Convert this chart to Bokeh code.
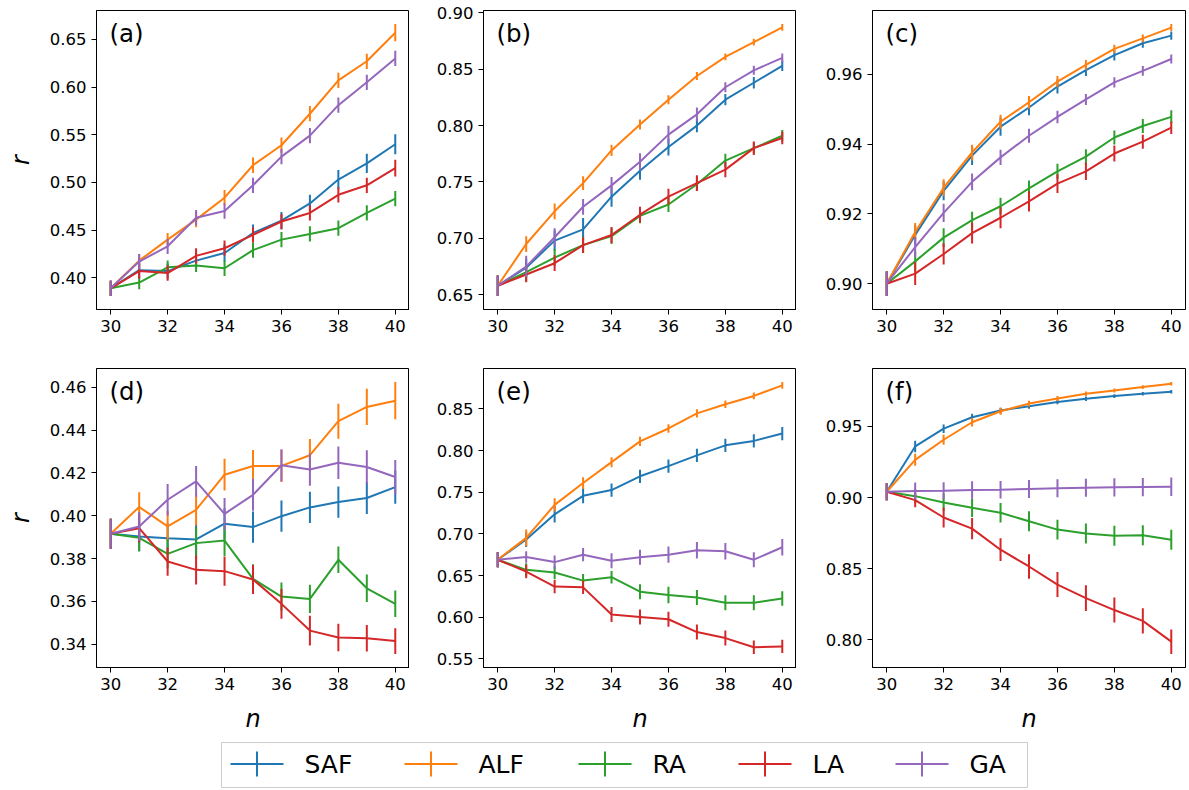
from bokeh.plotting import figure
from bokeh.models import Range1d, FixedTicker, Label, PrintfTickFormatter
from bokeh.layouts import column, row
from bokeh.embed import file_html
from bokeh.resources import INLINE
from bokeh.core.properties import value

# ---------------- data ----------------
N = [30, 31, 32, 33, 34, 35, 36, 37, 38, 39, 40]
METHODS = ["SAF", "ALF", "RA", "LA", "GA"]
COLORS = ["#1f77b4", "#ff7f0e", "#2ca02c", "#d62728", "#9467bd"]
X_TICKS = [30, 32, 34, 36, 38, 40]

# panel (a)
A_SAF = [0.389, 0.408, 0.407, 0.418, 0.426, 0.447, 0.460, 0.478, 0.503, 0.520, 0.540]
A_ALF = [0.389, 0.418, 0.440, 0.461, 0.484, 0.518, 0.539, 0.572, 0.607, 0.627, 0.657]
A_RA = [0.389, 0.395, 0.411, 0.413, 0.410, 0.429, 0.440, 0.446, 0.452, 0.468, 0.483]
A_LA = [0.389, 0.407, 0.405, 0.423, 0.431, 0.445, 0.459, 0.468, 0.487, 0.497, 0.515]
A_GA = [0.389, 0.417, 0.433, 0.463, 0.470, 0.497, 0.527, 0.549, 0.581, 0.605, 0.630]
A_SAF_ERR = [0.008, 0.008, 0.008, 0.008, 0.009, 0.009, 0.009, 0.009, 0.010, 0.010, 0.0105]
A_ALF_ERR = [0.008, 0.007, 0.007, 0.008, 0.008, 0.008, 0.008, 0.008, 0.008, 0.008, 0.009]
A_RA_ERR = [0.008, 0.007, 0.007, 0.007, 0.008, 0.008, 0.008, 0.008, 0.008, 0.008, 0.008]
A_LA_ERR = [0.008, 0.008, 0.008, 0.008, 0.008, 0.008, 0.008, 0.008, 0.008, 0.008, 0.0087]
A_GA_ERR = [0.008, 0.008, 0.008, 0.008, 0.008, 0.008, 0.008, 0.008, 0.008, 0.008, 0.008]
A_TICKS = [0.40, 0.45, 0.50, 0.55, 0.60, 0.65]

# panel (b)
B_SAF = [0.658, 0.674, 0.698, 0.708, 0.737, 0.760, 0.781, 0.800, 0.823, 0.838, 0.853]
B_ALF = [0.658, 0.695, 0.724, 0.749, 0.778, 0.801, 0.823, 0.844, 0.861, 0.874, 0.887]
B_RA = [0.658, 0.670, 0.683, 0.694, 0.702, 0.720, 0.730, 0.748, 0.769, 0.780, 0.791]
B_LA = [0.658, 0.668, 0.678, 0.694, 0.703, 0.721, 0.737, 0.749, 0.761, 0.780, 0.789]
B_GA = [0.658, 0.675, 0.701, 0.728, 0.747, 0.768, 0.792, 0.810, 0.834, 0.849, 0.860]
B_SAF_ERR = [0.009, 0.008, 0.009, 0.010, 0.009, 0.008, 0.0075, 0.006, 0.005, 0.005, 0.0045]
B_ALF_ERR = [0.009, 0.007, 0.007, 0.006, 0.005, 0.0045, 0.004, 0.0035, 0.003, 0.003, 0.003]
B_RA_ERR = [0.009, 0.008, 0.0075, 0.007, 0.007, 0.0065, 0.0065, 0.006, 0.006, 0.005, 0.005]
B_LA_ERR = [0.009, 0.007, 0.007, 0.007, 0.007, 0.007, 0.007, 0.007, 0.0067, 0.006, 0.0056]
B_GA_ERR = [0.009, 0.0095, 0.008, 0.007, 0.0075, 0.0075, 0.0078, 0.006, 0.0045, 0.004, 0.004]
B_TICKS = [0.65, 0.70, 0.75, 0.80, 0.85, 0.90]

# panel (c)
C_SAF = [0.900, 0.9140, 0.9266, 0.9367, 0.9450, 0.9505, 0.9565, 0.9612, 0.9655, 0.9689, 0.9711]
C_ALF = [0.900, 0.9148, 0.9275, 0.9376, 0.9464, 0.9520, 0.9579, 0.9627, 0.9673, 0.9703, 0.9734]
C_RA = [0.900, 0.9064, 0.9132, 0.9182, 0.9222, 0.9273, 0.9322, 0.9364, 0.9419, 0.9452, 0.9478]
C_LA = [0.900, 0.9029, 0.9085, 0.9145, 0.9189, 0.9236, 0.9287, 0.9322, 0.9373, 0.9407, 0.9447]
C_GA = [0.900, 0.9105, 0.9203, 0.9292, 0.9362, 0.9424, 0.9478, 0.9528, 0.9577, 0.9610, 0.9644]
C_SAF_ERR = [0.0035, 0.0028, 0.0027, 0.0027, 0.0026, 0.0022, 0.0020, 0.0017, 0.0015, 0.0013, 0.0012]
C_ALF_ERR = [0.0035, 0.0026, 0.0024, 0.0022, 0.0020, 0.0018, 0.0016, 0.0014, 0.0012, 0.0011, 0.0010]
C_RA_ERR = [0.0035, 0.0028, 0.0027, 0.0024, 0.0024, 0.0023, 0.0022, 0.0021, 0.0020, 0.0020, 0.0019]
C_LA_ERR = [0.0035, 0.0033, 0.0030, 0.0030, 0.0030, 0.0029, 0.0027, 0.0025, 0.0023, 0.0020, 0.0018]
C_GA_ERR = [0.0035, 0.0029, 0.0026, 0.0024, 0.0022, 0.0020, 0.0018, 0.0016, 0.0015, 0.0014, 0.0013]
C_TICKS = [0.90, 0.92, 0.94, 0.96]

# panel (d)
D_SAF = [0.3916, 0.3903, 0.3895, 0.3889, 0.3963, 0.3947, 0.3998, 0.4039, 0.4064, 0.4083, 0.4134]
D_ALF = [0.3916, 0.4041, 0.3950, 0.4028, 0.4192, 0.4233, 0.4233, 0.4283, 0.4442, 0.4509, 0.4538]
D_RA = [0.3916, 0.3897, 0.3822, 0.3872, 0.3884, 0.3705, 0.3622, 0.3611, 0.3794, 0.3661, 0.3588]
D_LA = [0.3916, 0.3942, 0.3786, 0.3747, 0.3741, 0.3702, 0.3588, 0.3463, 0.3431, 0.3427, 0.3414]
D_GA = [0.3916, 0.3950, 0.4075, 0.4161, 0.4009, 0.4098, 0.4236, 0.4216, 0.4248, 0.4228, 0.4181]
D_SAF_ERR = [0.007, 0.007, 0.007, 0.0073, 0.0073, 0.0073, 0.0073, 0.0073, 0.0073, 0.0075, 0.0078]
D_ALF_ERR = [0.007, 0.0069, 0.0072, 0.0073, 0.0074, 0.0074, 0.0075, 0.0076, 0.0082, 0.0085, 0.0087]
D_RA_ERR = [0.007, 0.0062, 0.0068, 0.0074, 0.0072, 0.0068, 0.0066, 0.0066, 0.0062, 0.0064, 0.0062]
D_LA_ERR = [0.007, 0.0066, 0.0066, 0.0068, 0.0068, 0.0068, 0.0070, 0.0070, 0.0064, 0.0062, 0.0060]
D_GA_ERR = [0.007, 0.0068, 0.0074, 0.0072, 0.0074, 0.0075, 0.0075, 0.0076, 0.0076, 0.0078, 0.0080]
D_TICKS = [0.34, 0.36, 0.38, 0.40, 0.42, 0.44, 0.46]

# panel (e)
E_SAF = [0.669, 0.6933, 0.7236, 0.7458, 0.7527, 0.7692, 0.7814, 0.7943, 0.8064, 0.8117, 0.8205]
E_ALF = [0.669, 0.6953, 0.7349, 0.7612, 0.7862, 0.8112, 0.8266, 0.8448, 0.8557, 0.8657, 0.8783]
E_RA = [0.669, 0.6569, 0.6537, 0.6440, 0.6481, 0.6307, 0.6267, 0.6238, 0.6174, 0.6174, 0.6226]
E_LA = [0.669, 0.6549, 0.6368, 0.6359, 0.6032, 0.6004, 0.5976, 0.5822, 0.5750, 0.5640, 0.5650]
E_GA = [0.669, 0.6723, 0.6662, 0.6751, 0.6679, 0.6719, 0.6751, 0.6804, 0.6792, 0.6691, 0.6840]
E_SAF_ERR = [0.009, 0.009, 0.010, 0.009, 0.008, 0.008, 0.008, 0.008, 0.008, 0.008, 0.008]
E_ALF_ERR = [0.009, 0.010, 0.008, 0.007, 0.006, 0.0055, 0.005, 0.005, 0.0045, 0.004, 0.004]
E_RA_ERR = [0.009, 0.008, 0.008, 0.008, 0.0075, 0.009, 0.010, 0.009, 0.009, 0.009, 0.0087]
E_LA_ERR = [0.009, 0.008, 0.008, 0.008, 0.009, 0.009, 0.009, 0.009, 0.009, 0.008, 0.008]
E_GA_ERR = [0.009, 0.007, 0.008, 0.008, 0.009, 0.009, 0.0097, 0.010, 0.010, 0.009, 0.010]
E_TICKS = [0.55, 0.60, 0.65, 0.70, 0.75, 0.80, 0.85]

# panel (f)
F_SAF = [0.9041, 0.9359, 0.9484, 0.9564, 0.9611, 0.9642, 0.9671, 0.9694, 0.9713, 0.9729, 0.9743]
F_ALF = [0.9041, 0.9265, 0.9406, 0.9529, 0.9606, 0.9660, 0.9696, 0.9729, 0.9752, 0.9776, 0.9799]
F_RA = [0.9041, 0.9010, 0.8966, 0.8928, 0.8893, 0.8834, 0.8775, 0.8747, 0.8732, 0.8735, 0.8704]
F_LA = [0.9041, 0.8982, 0.8860, 0.8782, 0.8634, 0.8516, 0.8389, 0.8294, 0.8210, 0.8134, 0.7988]
F_GA = [0.9041, 0.9046, 0.9048, 0.9053, 0.9055, 0.9060, 0.9065, 0.9069, 0.9072, 0.9074, 0.9076]
F_SAF_ERR = [0.006, 0.004, 0.003, 0.0025, 0.002, 0.0018, 0.0016, 0.0015, 0.0013, 0.0012, 0.0012]
F_ALF_ERR = [0.006, 0.0042, 0.0035, 0.003, 0.0025, 0.002, 0.0018, 0.0016, 0.0014, 0.0013, 0.0012]
F_RA_ERR = [0.006, 0.005, 0.006, 0.0065, 0.0068, 0.007, 0.007, 0.007, 0.007, 0.007, 0.007]
F_LA_ERR = [0.006, 0.005, 0.007, 0.0074, 0.008, 0.0086, 0.0088, 0.009, 0.0088, 0.0088, 0.0086]
F_GA_ERR = [0.006, 0.006, 0.006, 0.0062, 0.0062, 0.0063, 0.0063, 0.0064, 0.0064, 0.0064, 0.0065]
F_TICKS = [0.80, 0.85, 0.90, 0.95]

# ---------------- style ----------------
FONT = "DejaVu Sans"
FRAME_W, FRAME_H = 313, 299


def panel(tag, vals, errs, yticks, left, top, bottom, right, ylabel=None, xlabel=None):
    lows = [v - e for s, es in zip(vals, errs) for v, e in zip(s, es)]
    highs = [v + e for s, es in zip(vals, errs) for v, e in zip(s, es)]
    lo, hi = min(lows), max(highs)
    pad = 0.05 * (hi - lo)
    p = figure(frame_width=FRAME_W, frame_height=FRAME_H,
               x_range=Range1d(29.5, 40.5), y_range=Range1d(lo - pad, hi + pad),
               toolbar_location=None, output_backend="svg",
               min_border_left=left, min_border_right=right,
               min_border_top=top, min_border_bottom=bottom,
               background_fill_color="white", border_fill_color="white")
    p.grid.visible = False
    p.outline_line_color = "black"
    p.outline_line_width = 1
    p.outline_line_alpha = 1
    p.xaxis.ticker = FixedTicker(ticks=X_TICKS)
    p.yaxis.ticker = FixedTicker(ticks=yticks)
    p.yaxis.formatter = PrintfTickFormatter(format="%.2f")
    for ax in p.axis:
        ax.axis_line_color = "black"
        ax.axis_line_width = 1
        ax.major_tick_line_color = "black"
        ax.major_tick_line_width = 1
        ax.major_tick_out = 5
        ax.major_tick_in = 0
        ax.minor_tick_line_color = None
        ax.major_label_text_font = FONT
        ax.major_label_text_font_size = "16.5px"
        ax.major_label_text_color = "black"
        ax.major_label_standoff = 5
        ax.axis_label_text_font = FONT
        ax.axis_label_text_font_size = "24px"
        ax.axis_label_text_font_style = "italic"
        ax.axis_label_text_color = "black"
    if ylabel:
        p.yaxis.axis_label = ylabel
        p.yaxis.axis_label_standoff = 12
    if xlabel:
        p.xaxis.axis_label = xlabel
        p.xaxis.axis_label_standoff = 12
    for name, c, s, es in zip(METHODS, COLORS, vals, errs):
        p.line(N, s, line_color=c, line_width=2)
        p.segment(x0=N, y0=[v - e for v, e in zip(s, es)],
                  x1=N, y1=[v + e for v, e in zip(s, es)],
                  line_color=c, line_width=2)
    p.add_layout(Label(x=29.5, y=hi + pad, x_offset=13, y_offset=-8, text=tag,
                       text_baseline="top", text_align="left",
                       text_font=FONT, text_font_size="24.5px", text_color="black"))
    return p


pa = panel("(a)", [A_SAF, A_ALF, A_RA, A_LA, A_GA],
           [A_SAF_ERR, A_ALF_ERR, A_RA_ERR, A_LA_ERR, A_GA_ERR], A_TICKS,
           96, 10, 30, 0, ylabel="r")
pb = panel("(b)", [B_SAF, B_ALF, B_RA, B_LA, B_GA],
           [B_SAF_ERR, B_ALF_ERR, B_RA_ERR, B_LA_ERR, B_GA_ERR], B_TICKS,
           74, 10, 30, 0)
pc = panel("(c)", [C_SAF, C_ALF, C_RA, C_LA, C_GA],
           [C_SAF_ERR, C_ALF_ERR, C_RA_ERR, C_LA_ERR, C_GA_ERR], C_TICKS,
           76, 10, 30, 2)
pd = panel("(d)", [D_SAF, D_ALF, D_RA, D_LA, D_GA],
           [D_SAF_ERR, D_ALF_ERR, D_RA_ERR, D_LA_ERR, D_GA_ERR], D_TICKS,
           96, 29, 68, 0, ylabel="r", xlabel="n")
pe = panel("(e)", [E_SAF, E_ALF, E_RA, E_LA, E_GA],
           [E_SAF_ERR, E_ALF_ERR, E_RA_ERR, E_LA_ERR, E_GA_ERR], E_TICKS,
           74, 29, 68, 0, xlabel="n")
pf = panel("(f)", [F_SAF, F_ALF, F_RA, F_LA, F_GA],
           [F_SAF_ERR, F_ALF_ERR, F_RA_ERR, F_LA_ERR, F_GA_ERR], F_TICKS,
           76, 29, 68, 2, xlabel="n")

# ---------------- legend (drawn as its own small panel) ----------------
LEG_W, LEG_H = 807, 45
LEG_X = [9, 183, 357, 517, 674]     # left edge of each legend handle (layout)
HANDLE = 53
TEXT_GAP = 74
MID = 23.5

leg = figure(frame_width=LEG_W, frame_height=LEG_H,
             x_range=Range1d(0, LEG_W), y_range=Range1d(0, LEG_H),
             min_border_left=221, min_border_right=0, min_border_top=7, min_border_bottom=1,
             x_axis_location=None, y_axis_location=None,
             toolbar_location=None, output_backend="svg",
             background_fill_color="white", border_fill_color="white")
leg.grid.visible = False
leg.outline_line_color = "#cccccc"
leg.outline_line_width = 1
leg.outline_line_alpha = 1
leg.segment(x0=LEG_X, x1=[x + HANDLE for x in LEG_X], y0=[MID] * 5, y1=[MID] * 5,
            line_color=COLORS, line_width=2)
leg.segment(x0=[x + HANDLE / 2 for x in LEG_X], x1=[x + HANDLE / 2 for x in LEG_X],
            y0=[MID - 12.5] * 5, y1=[MID + 12.5] * 5,
            line_color=COLORS, line_width=2)
leg.text(x=[x + TEXT_GAP for x in LEG_X], y=[MID - 0.5] * 5, text=METHODS,
         text_baseline="middle", text_align="left",
         text_font=value(FONT), text_font_size=value("25px"), text_color="black")

layout = column(row(pa, pb, pc), row(pd, pe, pf), leg)
open("out.html", "w").write(file_html(layout, INLINE))
